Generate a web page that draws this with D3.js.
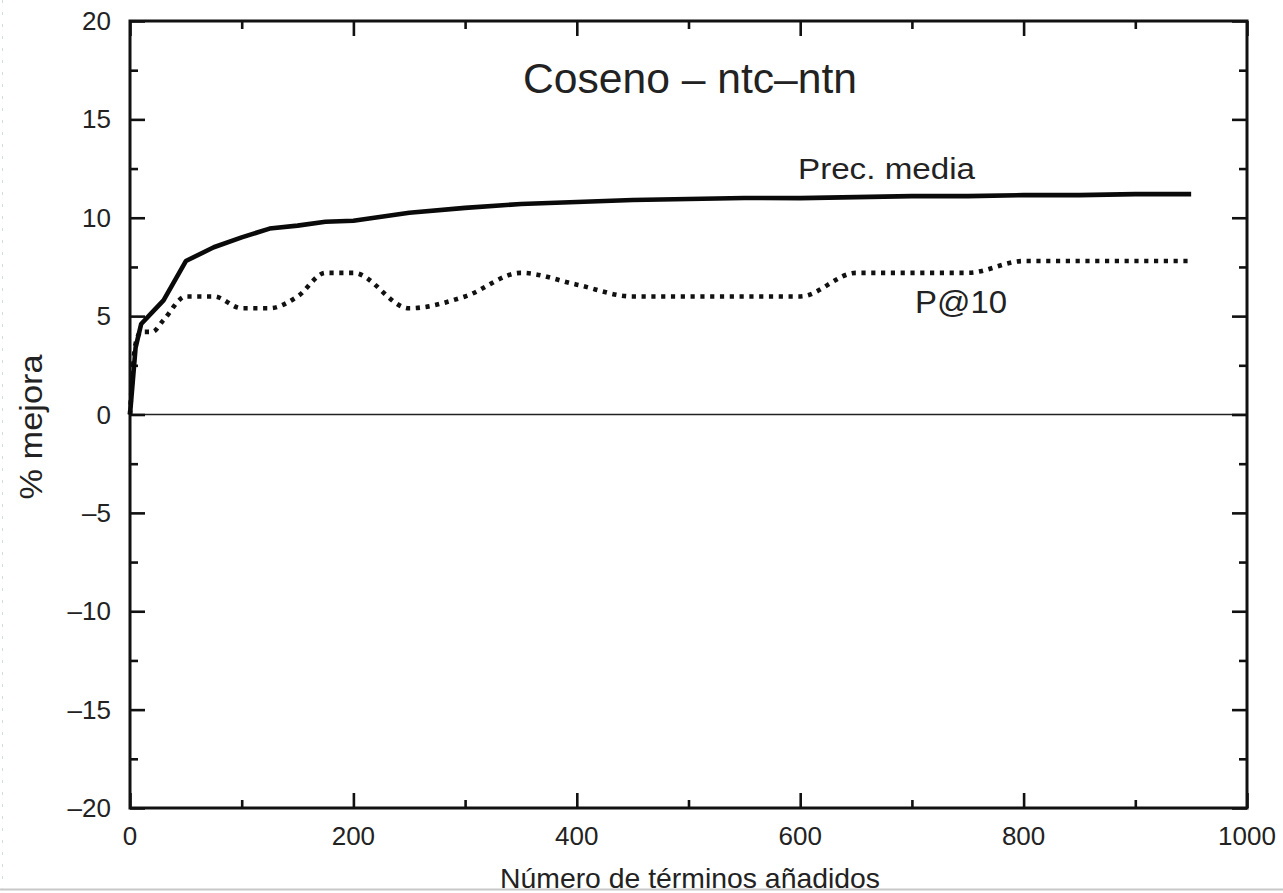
<!DOCTYPE html>
<html>
<head>
<meta charset="utf-8">
<script src="https://cdn.jsdelivr.net/npm/d3@7"></script>
<style>
  html, body { margin: 0; padding: 0; background: #fff; }
  svg { display: block; }
  text { font-family: "Liberation Sans", Arial, Helvetica, sans-serif; fill: #222; }
</style>
</head>
<body>
<svg id="chart" width="1283" height="893"></svg>
<script>
// Number of expansion terms added
const terms = [0, 5, 10, 20, 30, 50, 75, 100, 125, 150, 175, 200, 250, 300, 350, 400, 450, 500, 550, 600, 650, 700, 750, 800, 850, 900, 950];
// Improvement (%) in mean average precision
const precMedia = [0, 3.4, 4.6, 5.2, 5.8, 7.8, 8.5, 9.0, 9.45, 9.6, 9.8, 9.85, 10.25, 10.5, 10.7, 10.8, 10.9, 10.95, 11.0, 11.0, 11.05, 11.1, 11.1, 11.15, 11.15, 11.2, 11.2];
// Improvement (%) in precision at 10 documents
const p10 = [0, 3.6, 4.2, 4.2, 4.8, 6.0, 6.0, 5.4, 5.4, 6.0, 7.2, 7.2, 5.4, 6.0, 7.2, 6.6, 6.0, 6.0, 6.0, 6.0, 7.2, 7.2, 7.2, 7.8, 7.8, 7.8, 7.8];

const xMajor = [0, 200, 400, 600, 800, 1000];
const xMinor = [100, 300, 500, 700, 900];
const yMajor = [-20, -15, -10, -5, 0, 5, 10, 15, 20];
const yMinor = [-17.5, -12.5, -7.5, -2.5, 2.5, 7.5, 12.5, 17.5];

const title = "Coseno \u2013 ntc\u2013ntn";
const xTitle = "Número de términos añadidos";
const yTitle = "% mejora";

const svg = d3.select("#chart");
const plotL = 130, plotR = 1247, plotT = 21, plotB = 808;

const x = d3.scaleLinear().domain([0, 1000]).range([plotL, plotR]);
const y = d3.scaleLinear().domain([-20, 20]).range([plotB, plotT]);

// faint page edges
svg.append("line").attr("x1", 0).attr("x2", 1283).attr("y1", 889.5).attr("y2", 889.5)
  .attr("stroke", "#c8c8c8").attr("stroke-width", 2);
svg.append("line").attr("x1", 2.5).attr("x2", 2.5).attr("y1", 0).attr("y2", 889)
  .attr("stroke", "#d4dbe0").attr("stroke-width", 1).attr("stroke-dasharray", "3,9");

// zero line
svg.append("line")
  .attr("x1", x(0)).attr("x2", x(1000))
  .attr("y1", y(0)).attr("y2", y(0))
  .attr("stroke", "#222").attr("stroke-width", 1.6);

// axes: ticks pointing inward on all four sides
function tickAxis(axisGen, tx, ty, vals, len) {
  const g = svg.append("g").attr("transform", `translate(${tx},${ty})`)
    .call(axisGen.tickValues(vals).tickSize(-len).tickFormat(""));
  g.select(".domain").remove();
  g.selectAll(".tick line").attr("stroke", "#111").attr("stroke-width", 2.6);
  return g;
}
tickAxis(d3.axisBottom(x), 0, plotB, xMajor, 15);
tickAxis(d3.axisBottom(x), 0, plotB, xMinor, 8);
tickAxis(d3.axisTop(x), 0, plotT, xMajor, 15);
tickAxis(d3.axisTop(x), 0, plotT, xMinor, 8);
tickAxis(d3.axisLeft(y), plotL, 0, yMajor, 15);
tickAxis(d3.axisLeft(y), plotL, 0, yMinor, 8);
tickAxis(d3.axisRight(y), plotR, 0, yMajor, 15);
tickAxis(d3.axisRight(y), plotR, 0, yMinor, 8);

// tick labels
const fmt = v => (v < 0 ? "\u2013" + Math.abs(v) : String(v));
svg.append("g").selectAll("text").data(xMajor).join("text")
  .attr("x", d => x(d)).attr("y", 845)
  .attr("text-anchor", "middle").attr("font-size", 26)
  .text(d => d);
svg.append("g").selectAll("text").data(yMajor).join("text")
  .attr("x", 111).attr("y", d => y(d) + 9)
  .attr("text-anchor", "end").attr("font-size", 26)
  .text(fmt);

// frame
svg.append("rect")
  .attr("x", plotL).attr("y", plotT)
  .attr("width", plotR - plotL).attr("height", plotB - plotT)
  .attr("fill", "none").attr("stroke", "#111").attr("stroke-width", 3);

// series
const pts = vals => terms.map((t, i) => [t, vals[i]]);
svg.append("path")
  .datum(pts(p10))
  .attr("d", d3.line().x(d => x(d[0])).y(d => y(d[1])).curve(d3.curveMonotoneX))
  .attr("fill", "none").attr("stroke", "#111").attr("stroke-width", 4.6)
  .attr("stroke-dasharray", "4.2,5.6");
svg.append("path")
  .datum(pts(precMedia))
  .attr("d", d3.line().x(d => x(d[0])).y(d => y(d[1])))
  .attr("fill", "none").attr("stroke", "#0a0a0a").attr("stroke-width", 4.6)
  .attr("stroke-linejoin", "round");

// labels
svg.append("text").attr("x", 690).attr("y", 93)
  .attr("text-anchor", "middle").attr("font-size", 42)
  .attr("textLength", 334).attr("lengthAdjust", "spacingAndGlyphs").text(title);
svg.append("text").attr("x", 798).attr("y", 179)
  .attr("font-size", 29)
  .attr("textLength", 177).attr("lengthAdjust", "spacingAndGlyphs").text("Prec. media");
svg.append("text").attr("x", 915).attr("y", 313)
  .attr("font-size", 32)
  .attr("textLength", 92).attr("lengthAdjust", "spacingAndGlyphs").text("P@10");
svg.append("text").attr("x", 690).attr("y", 888)
  .attr("text-anchor", "middle").attr("font-size", 28)
  .attr("textLength", 380).attr("lengthAdjust", "spacingAndGlyphs").text(xTitle);
svg.append("text")
  .attr("transform", "translate(42,427) rotate(-90)")
  .attr("text-anchor", "middle").attr("font-size", 31)
  .attr("textLength", 145).attr("lengthAdjust", "spacingAndGlyphs").text(yTitle);
</script>
</body>
</html>
